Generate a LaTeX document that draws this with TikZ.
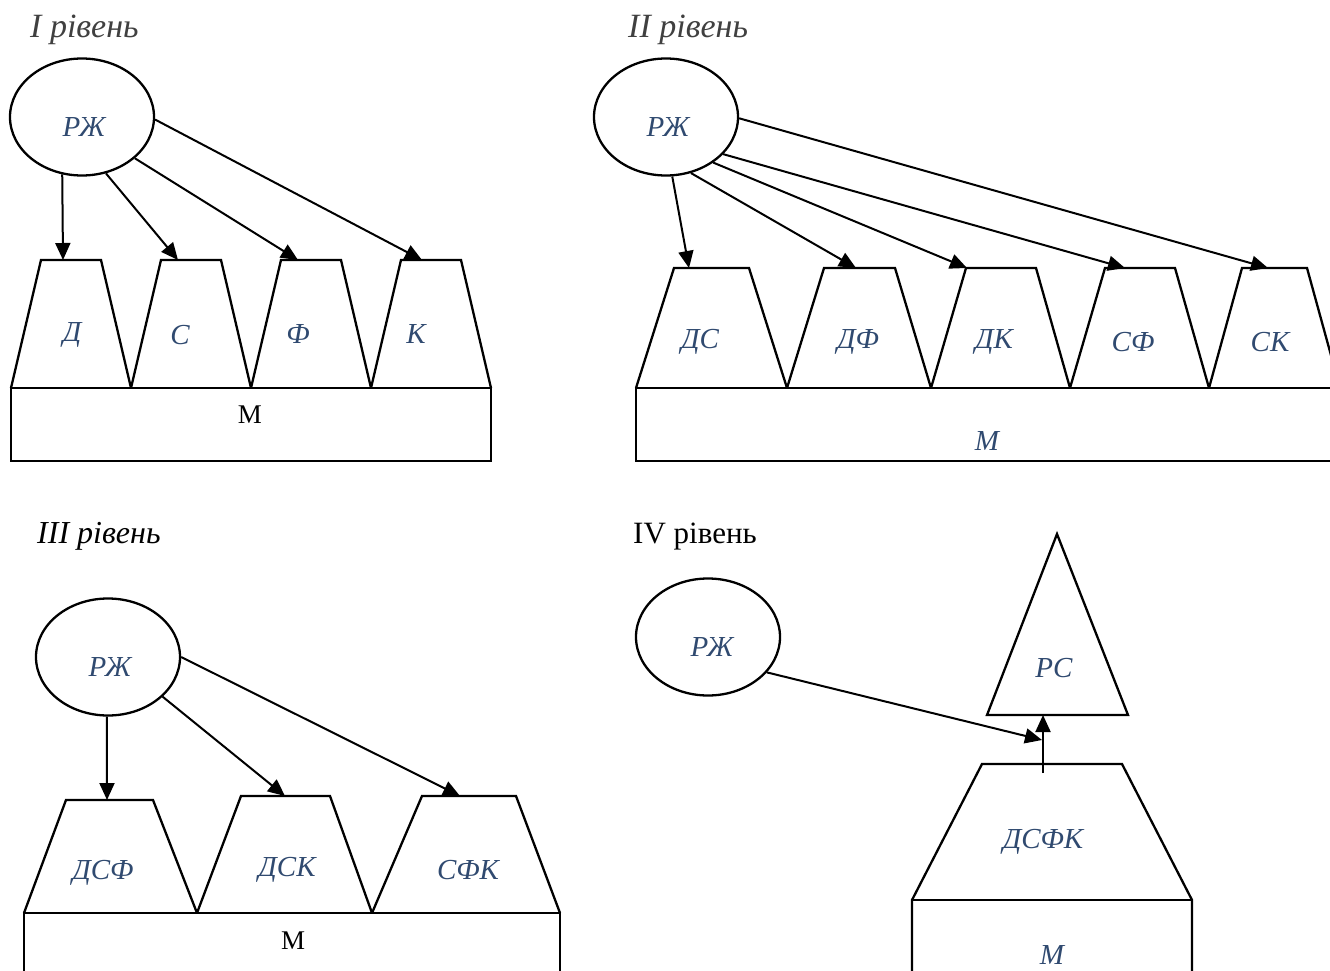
\documentclass[tikz,border=0pt]{standalone}
\usepackage{fontspec}
\setmainfont{Liberation Serif}
\usetikzlibrary{shapes.geometric,arrows.meta}
\definecolor{lblblue}{RGB}{48,74,112}
\definecolor{ttlgray}{RGB}{64,64,64}
\begin{document}
\begin{tikzpicture}[x=1pt,y=-1pt,
  shp/.style={draw,line width=2.3pt,line join=miter},
  oval/.style={ellipse,draw,line width=2.3pt,minimum width=144pt,minimum height=117pt,inner sep=0pt},
  arr/.style={line width=2pt,-{Triangle[length=17pt,width=15pt]}},
  lbl/.style={inner sep=0pt,text=lblblue,font=\fontsize{29}{32}\selectfont\itshape},
  mlbl/.style={inner sep=0pt,font=\fontsize{27}{30}\selectfont},
  ttl/.style={inner sep=0pt,anchor=base west,font=\fontsize{31}{34}\selectfont},
]
\useasboundingbox (0,0) rectangle (1330,971);
\fill[white] (0,0) rectangle (1330,971);
\clip (0,0) rectangle (1330,971);

% ---------- Panel I ----------
\node[ttl,text=ttlgray,font=\fontsize{34}{38}\selectfont\itshape] (t1) at (30,38) {I рівень};
\draw[shp] (11,388) rectangle (491,461);
\draw[shp] (11,388) -- (41,260) -- (101,260) -- (131,388);
\draw[shp] (131,388) -- (161,260) -- (221,260) -- (251,388);
\draw[shp] (251,388) -- (281,260) -- (341,260) -- (371,388);
\draw[shp] (371,388) -- (401,260) -- (461,260) -- (491,388);
\node[oval] (e1) at (82,117) {};
\node[lbl] (r1) at (84,127) {РЖ};
\node[lbl] (d1) at (72,335) {Д};
\node[lbl] (s1) at (180,335) {С};
\node[lbl] (f1) at (298,334) {Ф};
\node[lbl] (k1) at (416,334) {К};
\node[mlbl] (m1) at (250,415) {М};
\coordinate (a1) at (63,260);
\coordinate (a2) at (178,260);
\coordinate (a3) at (298,260);
\coordinate (a4) at (422,260);
\draw[arr] (e1.-109) -- (a1);
\draw[arr] (e1.-67) -- (a2);
\draw[arr] (e1.-38) -- (a3);
\draw[arr] (e1.-2) -- (a4);

% ---------- Panel II ----------
\node[ttl,text=ttlgray,font=\fontsize{34}{38}\selectfont\itshape] (t2) at (628,38) {II рівень};
\draw[shp] (636,388) rectangle (1345,461);
\draw[shp] (636,388) -- (674,268) -- (749,268) -- (787,388);
\draw[shp] (787,388) -- (824,268) -- (895,268) -- (931,388);
\draw[shp] (931,388) -- (966,268) -- (1036,268) -- (1070,388);
\draw[shp] (1070,388) -- (1105,268) -- (1175,268) -- (1209,388);
\draw[shp] (1209,388) -- (1242,268) -- (1307,268) -- (1340,388);
\node[oval] (e2) at (666,117) {};
\node[lbl] (r2) at (668,127) {РЖ};
\node[lbl] (ds2) at (700,342) {ДС};
\node[lbl] (df2) at (858,342) {ДФ};
\node[lbl] (dk2) at (994,342) {ДК};
\node[lbl] (sf2) at (1133,342) {СФ};
\node[lbl] (sk2) at (1270,342) {СК};
\node[lbl] (m2) at (987,441) {М};
\coordinate (b1) at (689,268);
\coordinate (b2) at (856,268);
\coordinate (b3) at (967,268);
\coordinate (b4) at (1125,268);
\coordinate (b5) at (1268,268);
\draw[arr] (e2.-84) -- (b1);
\draw[arr] (e2.-66) -- (b2);
\draw[arr] (e2.-44) -- (b3);
\draw[arr] (e2.-33) -- (b4);
\draw[arr] (e2.-1) -- (b5);

% ---------- Panel III ----------
\node[ttl,font=\fontsize{32}{36}\selectfont\itshape] (t3) at (37,543) {III рівень};
\draw[shp] (24,913) rectangle (560,995);
\draw[shp] (24,913) -- (66,800) -- (153,800) -- (197,913);
\draw[shp] (197,913) -- (241,796) -- (330,796) -- (372,913);
\draw[shp] (372,913) -- (422,796) -- (516,796) -- (560,913);
\node[oval] (e3) at (108,657) {};
\node[lbl] (r3) at (110,667) {РЖ};
\node[lbl] (dsf3) at (103,873) {ДСФ};
\node[lbl] (dsk3) at (287,870) {ДСК};
\node[lbl] (sfk3) at (468,870) {СФК};
\node[mlbl] (m3) at (293,941) {М};
\coordinate (c1) at (107,800);
\coordinate (c2) at (285,796);
\coordinate (c3) at (460,796);
\draw[arr] (e3.-91) -- (c1);
\draw[arr] (e3.-36) -- (c2);
\draw[arr] (e3.0) -- (c3);

% ---------- Panel IV ----------
\node[ttl] (t4) at (633,543) {IV рівень};
\draw[shp] (1057,534) -- (1128,715) -- (987,715) -- cycle;
\draw[shp] (912,995) -- (912,900) -- (982,764) -- (1122,764) -- (1192,900) -- (1192,995);
\draw[shp] (912,900) -- (1192,900);
\node[oval] (e4) at (708,637) {};
\node[lbl] (r4) at (712,647) {РЖ};
\node[lbl] (rs4) at (1054,668) {РС};
\node[lbl] (dsfk4) at (1043,842) {ДСФК};
\node[lbl] (m4) at (1052,955) {М};
\coordinate (d1) at (1042,740);
\coordinate (d2s) at (1043,773);
\coordinate (d2) at (1043,715);
\draw[arr] (e4.-31) -- (d1);
\draw[arr] (d2s) -- (d2);
\end{tikzpicture}
\end{document}
